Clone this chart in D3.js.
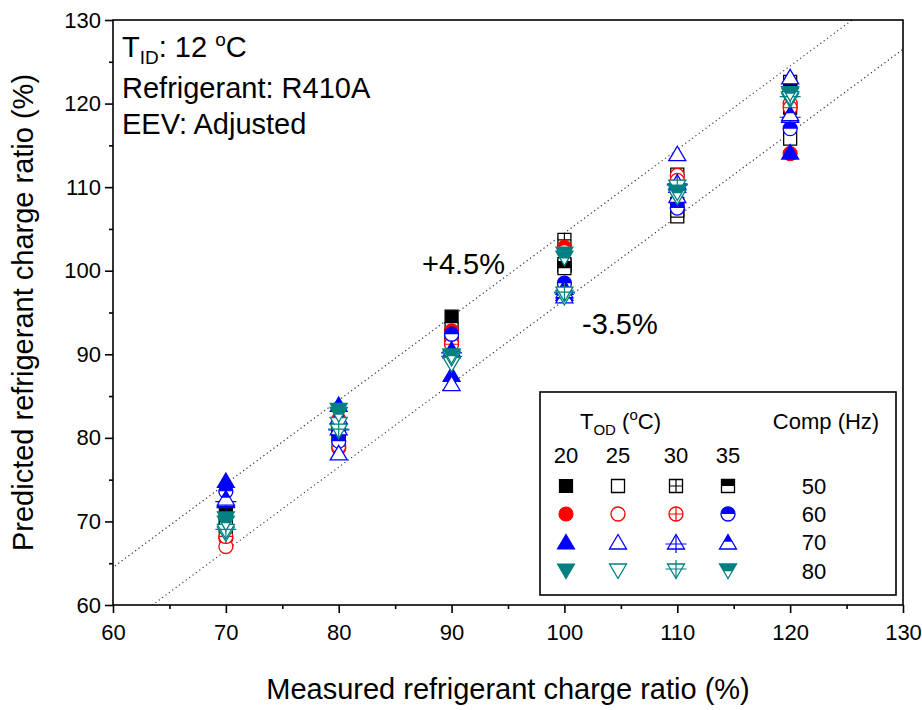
<!DOCTYPE html>
<html>
<head>
<meta charset="utf-8">
<script src="https://cdn.jsdelivr.net/npm/d3@7"></script>
<style>
  html, body { margin: 0; padding: 0; background: #fff; }
  svg { display: block; font-family: Arial, "Liberation Sans", sans-serif; }
</style>
</head>
<body>
<svg id="chart" width="922" height="710"></svg>
<script>
// Measured charge ratio (%) at which every operating condition was tested
const measured = [70, 80, 90, 100, 110, 120];
const compFreqs = [50, 60, 70, 80];       // compressor frequency (Hz)
const outdoorTemps = [20, 25, 30, 35];    // outdoor temperature (°C)
const xTicks = [60, 70, 80, 90, 100, 110, 120, 130];
const yTicks = [60, 70, 80, 90, 100, 110, 120, 130];

// Predicted charge ratio (%) for each compressor frequency / outdoor temperature
const c50_t20 = [71.0, 81.5, 94.5, 100.6, 108.0, 119.5];
const c50_t25 = [69.5, 80.5, 93.0, 100.8, 106.5, 115.8];
const c50_t30 = [69.0, 81.0, 92.2, 103.7, 111.5, 122.6];
const c50_t35 = [70.3, 80.2, 91.8, 100.3, 107.2, 121.6];
const c60_t20 = [68.0, 82.2, 92.8, 102.8, 110.5, 114.0];
const c60_t25 = [67.0, 78.8, 91.5, 102.3, 111.4, 120.0];
const c60_t30 = [68.2, 79.0, 91.2, 97.8, 110.8, 119.5];
const c60_t35 = [73.6, 79.6, 92.4, 98.5, 107.5, 117.0];
const c70_t20 = [74.9, 84.0, 87.6, 97.3, 110.2, 114.2];
const c70_t25 = [72.5, 78.2, 86.5, 97.0, 114.0, 123.2];
const c70_t30 = [72.6, 81.2, 90.4, 97.6, 110.6, 118.6];
const c70_t35 = [72.8, 82.5, 90.6, 98.0, 109.0, 118.8];
const c80_t20 = [70.3, 83.3, 89.7, 102.0, 109.6, 121.0];
const c80_t25 = [68.5, 81.6, 88.8, 96.8, 108.8, 120.4];
const c80_t30 = [68.8, 80.8, 89.5, 97.2, 110.0, 120.6];
const c80_t35 = [69.8, 82.8, 89.8, 101.5, 109.3, 121.2];

// Error bands: predicted = measured + offset
const bandOffsets = [4.5, -3.5];
const bandLabels = ["+4.5%", "-3.5%"];

const predicted = [
  [c50_t20, c50_t25, c50_t30, c50_t35],
  [c60_t20, c60_t25, c60_t30, c60_t35],
  [c70_t20, c70_t25, c70_t30, c70_t35],
  [c80_t20, c80_t25, c80_t30, c80_t35]
];

// Marker appearance: shape by frequency, fill style by outdoor temperature
const shapes = ["square", "circle", "up", "down"];
const styles = ["filled", "open", "cross", "half"];
const colorFor = (fi, ti) => {
  if (fi === 0) return "#000000";
  if (fi === 1) return ti === 3 ? "#0000ff" : "#ff0000";
  if (fi === 2) return "#0000ff";
  return "#008080";
};

const svg = d3.select("#chart");
const margin = { left: 113, right: 19, top: 20, bottom: 105 };
const W = 922, H = 710;
const x = d3.scaleLinear().domain([60, 130]).range([margin.left, W - margin.right]);
const y = d3.scaleLinear().domain([60, 130]).range([H - margin.bottom, margin.top]);

const defs = svg.append("defs");
defs.append("clipPath").attr("id", "topHalf").attr("clipPathUnits", "objectBoundingBox")
  .append("rect").attr("x", -0.1).attr("y", -0.1).attr("width", 1.2).attr("height", 0.6);
defs.append("clipPath").attr("id", "plotArea")
  .append("rect").attr("x", margin.left).attr("y", margin.top)
  .attr("width", W - margin.left - margin.right).attr("height", H - margin.top - margin.bottom);

// Shape outlines centred at the origin
function shapePath(shape) {
  if (shape === "square") return "M-6.5,-6.5H6.5V6.5H-6.5Z";
  if (shape === "circle") return "M7,0A7,7 0 1,1 -7,0A7,7 0 1,1 7,0Z";
  if (shape === "up") return "M0,-7.5L8.5,7L-8.5,7Z";
  return "M0,7.5L8.5,-7L-8.5,-7Z";
}
function crossPath(shape) {
  if (shape === "square") return "M-6.5,0H6.5M0,-6.5V6.5";
  if (shape === "circle") return "M-7,0H7M0,-7V7";
  if (shape === "up") return "M-10.5,2H10.5M0,-7.5V11";
  return "M-10.5,-2H10.5M0,-11V7.5";
}

function drawMarker(g, cx, cy, shape, style, color) {
  const m = g.append("g").attr("transform", `translate(${cx},${cy})`);
  const d = shapePath(shape);
  if (style === "filled") {
    m.append("path").attr("d", d).attr("fill", color).attr("stroke", color).attr("stroke-width", 1.2);
  } else if (style === "open") {
    m.append("path").attr("d", d).attr("fill", "#fff").attr("stroke", color).attr("stroke-width", 1.3);
  } else if (style === "cross") {
    m.append("path").attr("d", d).attr("fill", "#fff").attr("stroke", color).attr("stroke-width", 1.3);
    m.append("path").attr("d", crossPath(shape)).attr("fill", "none").attr("stroke", color).attr("stroke-width", 1.2);
  } else {
    m.append("path").attr("d", d).attr("fill", "#fff").attr("stroke", color).attr("stroke-width", 1.3);
    m.append("path").attr("d", d).attr("fill", color).attr("clip-path", "url(#topHalf)");
  }
}

// Error band lines
const bandG = svg.append("g").attr("clip-path", "url(#plotArea)");
bandOffsets.forEach(off => {
  bandG.append("line")
    .attr("x1", x(50)).attr("y1", y(50 + off))
    .attr("x2", x(140)).attr("y2", y(140 + off))
    .attr("stroke", "#333").attr("stroke-width", 1.2)
    .attr("stroke-dasharray", "1.2,3");
});

// Data markers
const pts = svg.append("g");
predicted.forEach((row, fi) => {
  row.forEach((vals, ti) => {
    vals.forEach((v, i) => {
      drawMarker(pts, x(measured[i]), y(v), shapes[fi], styles[ti], colorFor(fi, ti));
    });
  });
});

// Axes
const xAxis = d3.axisBottom(x).tickValues(xTicks).tickSize(8).tickPadding(11);
const yAxis = d3.axisLeft(y).tickValues(yTicks).tickSize(8).tickPadding(4);
const xMinor = d3.axisBottom(x).tickValues(xTicks.slice(0, -1).map(t => t + 5)).tickSize(4).tickFormat("");
const yMinor = d3.axisLeft(y).tickValues(yTicks.slice(0, -1).map(t => t + 5)).tickSize(4).tickFormat("");

function styleAxis(g) {
  g.selectAll(".domain").remove();
  g.selectAll("line").attr("stroke", "#000").attr("stroke-width", 1.6);
  g.selectAll("text").attr("fill", "#000").attr("font-size", 22)
    .attr("font-family", "Arial, 'Liberation Sans', sans-serif");
}
svg.append("g").attr("transform", `translate(0,${H - margin.bottom})`).call(xAxis).call(styleAxis);
svg.append("g").attr("transform", `translate(0,${H - margin.bottom})`).call(xMinor).call(styleAxis);
svg.append("g").attr("transform", `translate(${margin.left},0)`).call(yAxis).call(styleAxis);
svg.append("g").attr("transform", `translate(${margin.left},0)`).call(yMinor).call(styleAxis);

// Frame
svg.append("rect")
  .attr("x", margin.left).attr("y", margin.top)
  .attr("width", W - margin.left - margin.right).attr("height", H - margin.top - margin.bottom)
  .attr("fill", "none").attr("stroke", "#000").attr("stroke-width", 1.6);

// Axis titles
svg.append("text").attr("x", (margin.left + W - margin.right) / 2).attr("y", 699)
  .attr("text-anchor", "middle").attr("font-size", 29).text("Measured refrigerant charge ratio (%)");
svg.append("text").attr("transform", `translate(33,${(margin.top + H - margin.bottom) / 2}) rotate(-90)`)
  .attr("text-anchor", "middle").attr("font-size", 29).text("Predicted refrigerant charge ratio (%)");

// Test conditions
const info = svg.append("g").attr("font-size", 29);
const t1 = info.append("text").attr("x", 122).attr("y", 57);
t1.append("tspan").text("T");
t1.append("tspan").attr("font-size", 19).attr("dy", 7).text("ID");
t1.append("tspan").attr("dy", -7).text(": 12 ");
t1.append("tspan").attr("font-size", 19).attr("dy", -11).text("o");
t1.append("tspan").attr("dy", 11).text("C");
info.append("text").attr("x", 122).attr("y", 98).text("Refrigerant: R410A");
info.append("text").attr("x", 122).attr("y", 134).text("EEV: Adjusted");

// Band labels
svg.append("text").attr("x", 422).attr("y", 274).attr("font-size", 29).text(bandLabels[0]);
svg.append("text").attr("x", 582).attr("y", 334).attr("font-size", 29).text(bandLabels[1]);

// Legend
const lg = svg.append("g");
lg.append("rect").attr("x", 540).attr("y", 392).attr("width", 356).attr("height", 203)
  .attr("fill", "#fff").attr("stroke", "#000").attr("stroke-width", 1.6);
const th = lg.append("text").attr("x", 580).attr("y", 429).attr("font-size", 22);
th.append("tspan").text("T");
th.append("tspan").attr("font-size", 15).attr("dy", 6).text("OD");
th.append("tspan").attr("dy", -6).text(" (");
th.append("tspan").attr("font-size", 15).attr("dy", -9).text("o");
th.append("tspan").attr("dy", 9).text("C)");
lg.append("text").attr("x", 826).attr("y", 429).attr("text-anchor", "middle").attr("font-size", 22).text("Comp (Hz)");
const legX = [566, 618, 676, 728];
const legY = [486, 514, 542, 571];
outdoorTemps.forEach((t, ti) => {
  lg.append("text").attr("x", legX[ti]).attr("y", 463).attr("text-anchor", "middle")
    .attr("font-size", 22).text(t);
});
compFreqs.forEach((f, fi) => {
  outdoorTemps.forEach((t, ti) => {
    drawMarker(lg, legX[ti], legY[fi], shapes[fi], styles[ti], colorFor(fi, ti));
  });
  lg.append("text").attr("x", 814).attr("y", legY[fi] + 8).attr("text-anchor", "middle")
    .attr("font-size", 22).text(f);
});
</script>
</body>
</html>
